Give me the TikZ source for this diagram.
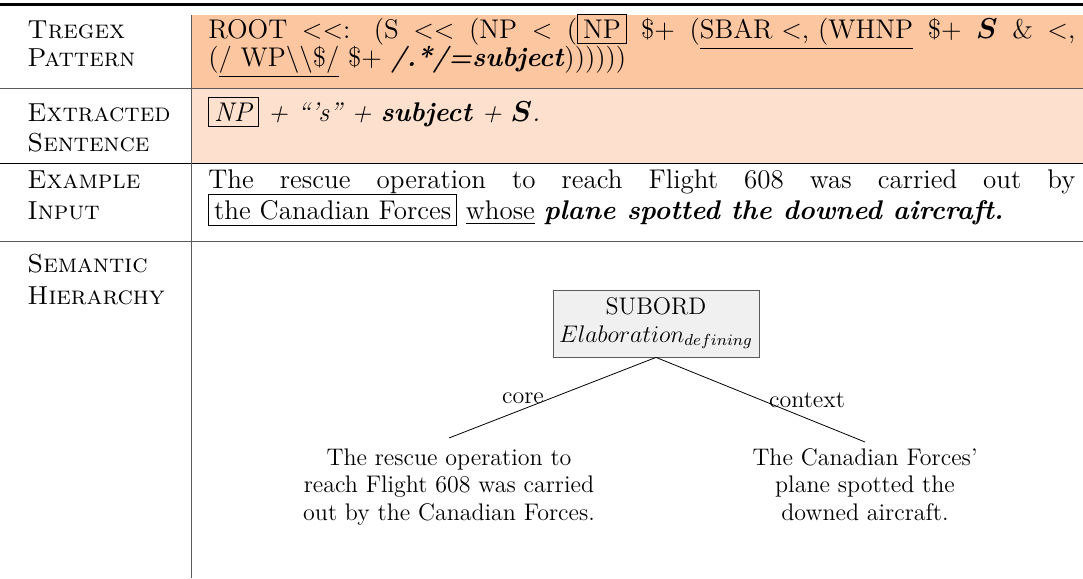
\documentclass[tikz,border=0pt]{standalone}
\usepackage{amsmath,bm}
\definecolor{orA}{RGB}{252,198,160}
\definecolor{orB}{RGB}{253,224,205}
\definecolor{rulegray}{RGB}{90,90,90}
\begin{document}
\begin{tikzpicture}[x=0.5pt,y=-0.5pt,
  lab/.style={anchor=base west,inner sep=0pt,font=\fontsize{13}{16}\selectfont},
  txt/.style={anchor=base west,inner sep=0pt,font=\fontsize{13.5}{16}\selectfont},
  treefont/.style={font=\fontsize{12}{13.75}\selectfont},
  rel/.style={draw=rulegray,fill=black!6,align=center,inner sep=3pt,treefont},
  leaf/.style={align=center,inner xsep=2pt,inner ysep=5pt,treefont,anchor=north},
  edgelab/.style={inner sep=0pt,treefont}
]
\useasboundingbox (0,0) rectangle (1083,579);
% backgrounds
\fill[orA] (191.7,15) rectangle (1083,88);
\fill[orB] (191.7,88) rectangle (1083,163);
% rules
\draw[line width=1.3pt] (0,4.5) -- (1083,4.5);
\draw[rulegray,line width=0.5pt] (0,88) -- (1083,88);
\draw[black,line width=0.5pt] (0,163) -- (1083,163);
\draw[rulegray,line width=0.5pt] (0,241) -- (1083,241);
\draw[rulegray,line width=0.5pt] (191.7,15) -- (191.7,578);
\setlength{\fboxsep}{2.5pt}
\newcommand{\lt}{<{}}
% labels
\node[lab] (l1a) at (27,38) {\textsc{Tregex}};
\node[lab] (l1b) at (27,66) {\textsc{Pattern}};
\node[lab] (l2a) at (27,121) {\textsc{Extracted}};
\node[lab] (l2b) at (27,151) {\textsc{Sentence}};
\node[lab] (l3a) at (27,188) {\textsc{Example}};
\node[lab] (l3b) at (27,219) {\textsc{Input}};
\node[lab] (l4a) at (27,272) {\textsc{Semantic}};
\node[lab] (l4b) at (27,304) {\textsc{Hierarchy}};
% row 1
\node[txt] (p1) at (208,38) {\makebox[433.5pt][s]{ROOT \lt\lt: (S \lt\lt{} (NP \lt{} (\fbox{NP} \$+ (\underline{SBAR \lt, (WHNP} \$+ $\boldsymbol{S}$ \& \lt,}};
\node[txt] (p2) at (208,66) {(\underline{/ WP\textbackslash\textbackslash\$/} \$+ \textbf{\textit{/.*/=subject}}))))))};
% row 2
\node[txt] (e1) at (208,121) {\fbox{\textit{NP}} \textit{+ “’s” +} \textbf{\textit{subject}} \textit{+} $\boldsymbol{S}$\textit{.}};
% row 3
\node[txt] (i1) at (208,188) {\makebox[433.5pt][s]{The rescue operation to reach Flight 608 was carried out by}};
\node[txt] (i2) at (208,219) {\fbox{the Canadian Forces} \underline{whose} \textbf{\textit{plane spotted the downed aircraft.}}};
% tree
\node[rel,minimum width=102pt,minimum height=33.5pt] (root) at (656,323.5) {SUBORD\\$Elaboration_{defining}$};
\node[leaf] (lf1) at (449,438) {The rescue operation to\\reach Flight 608 was carried\\out by the Canadian Forces.};
\node[leaf,inner ysep=3pt] (lf2) at (865,442) {The Canadian Forces’\\plane spotted the\\downed aircraft.};
\draw (root.south) -- (lf1.north);
\draw (root.south) -- (lf2.north);
\node[edgelab] (c1) at (523,398) {core};
\node[edgelab] (c2) at (807,400) {context};
\end{tikzpicture}
\end{document}
